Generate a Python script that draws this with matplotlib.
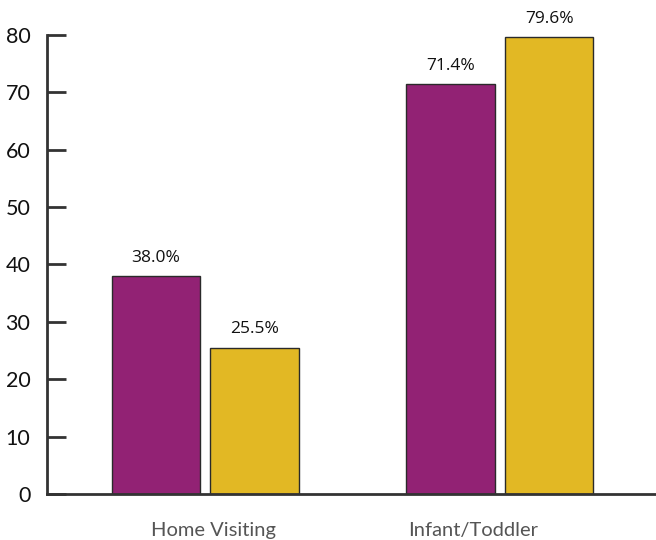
import matplotlib.pyplot as plt
import numpy as np

categories = ["Home Visiting", "Infant/Toddler"]
series_a = [38.0, 71.4]
series_b = [25.5, 79.6]
yticks = [0, 10, 20, 30, 40, 50, 60, 70, 80]

plt.rcParams['font.family'] = ['Lato', 'DejaVu Sans']

fig = plt.figure(figsize=(6.56, 5.4), dpi=100)
ax = fig.add_axes([0.0716, 0.0852, 0.9284, 0.85])

x = np.arange(len(categories))
w = 0.30
off = 0.167
b1 = ax.bar(x - off, series_a, w, color="#922274", edgecolor="#2a2a2a", linewidth=1)
b2 = ax.bar(x + off, series_b, w, color="#E2B824", edgecolor="#2a2a2a", linewidth=1)

for bars, vals in ((b1, series_a), (b2, series_b)):
    for r, v in zip(bars, vals):
        ax.text(r.get_x() + r.get_width() / 2, v + 1.8, f"{v:.1f}%",
                ha="center", va="bottom", fontsize=12.5, color="#111111",
                family=['Open Sans', 'DejaVu Sans'])

ax.set_xlim(-0.536, 1.529)
ax.set_ylim(0, 80)
ax.set_yticks(yticks)
ax.tick_params(axis='y', direction='in', length=14, width=2, color="#333333",
               labelsize=15.5, pad=12, labelcolor="#111111")

# category labels
ax.set_xticks([0.027, -0.09 + 1])
ax.set_xticklabels(categories, fontsize=14.5, color="#555555")
ax.tick_params(axis='x', length=0, pad=20)

for s in ["top", "right"]:
    ax.spines[s].set_visible(False)
ax.spines["left"].set_linewidth(2)
ax.spines["left"].set_color("#333333")
ax.spines["bottom"].set_linewidth(2)
ax.spines["bottom"].set_color("#333333")

fig.savefig("out.png", dpi=100)
